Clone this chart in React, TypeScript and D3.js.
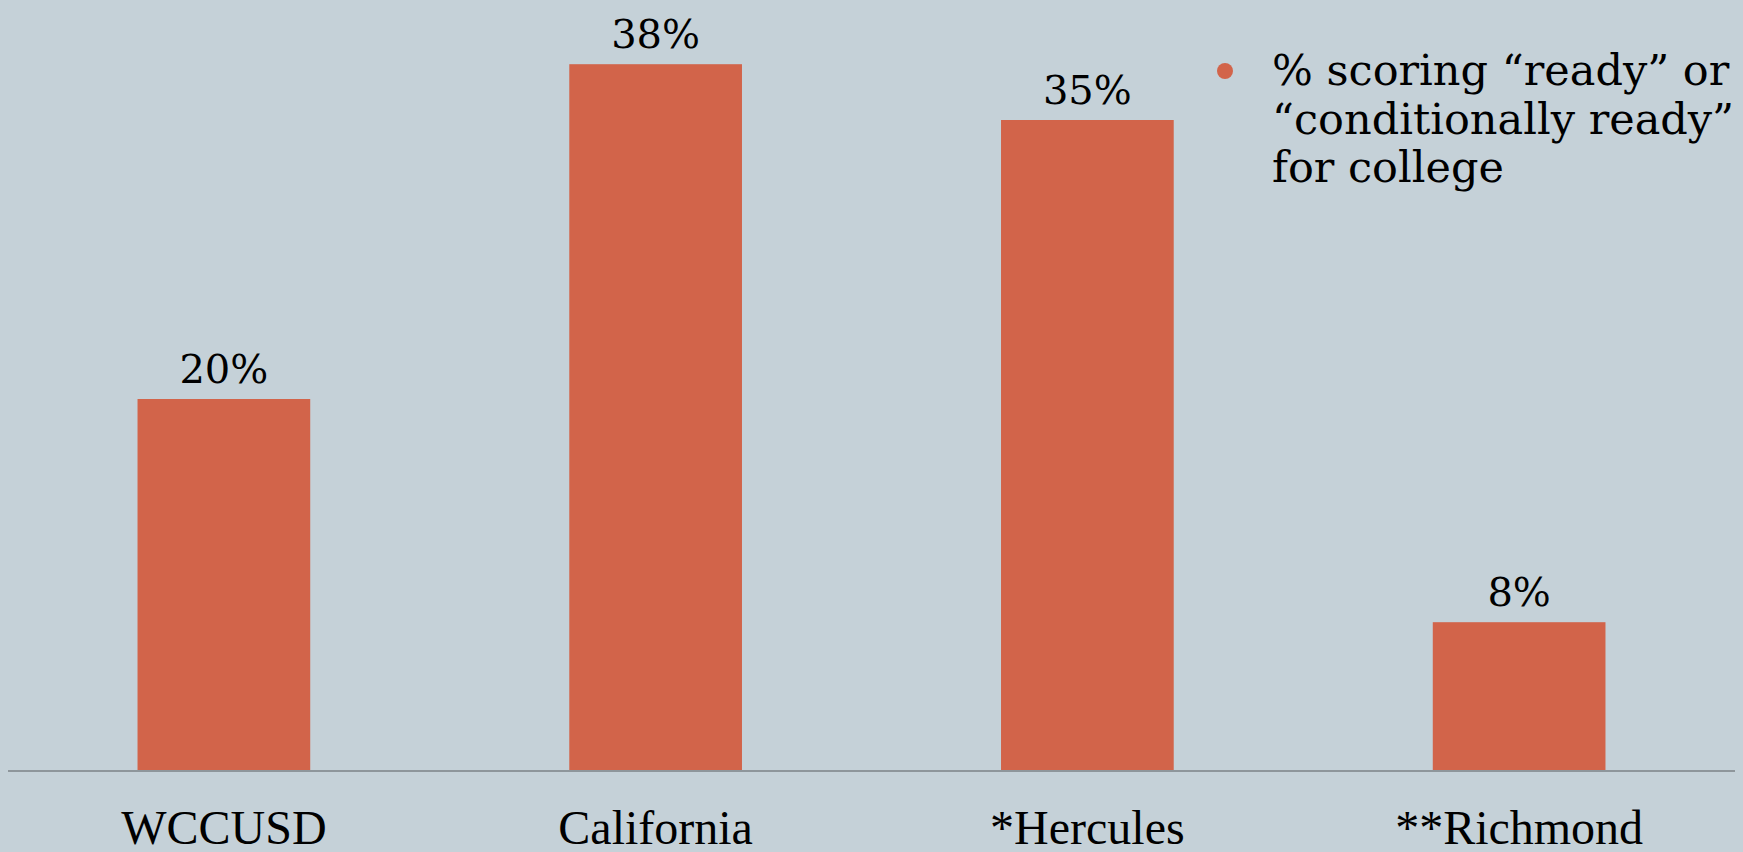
import { scaleBand, scaleLinear } from "d3"

const categories = ["WCCUSD", "California", "*Hercules", "**Richmond"]
const values = [20, 38, 35, 8]
const valueLabels = ["20%", "38%", "35%", "8%"]
const legendLines = ["% scoring \u201cready\u201d or", "\u201cconditionally ready\u201d", "for college"]

const W = 1743
const H = 852
const BASE = 771
const BAR = "#D2644A"
const BG = "#C5D1D8"
const GEORGIA = "Georgia, 'DejaVu Serif', serif"
const TIMES = "'Times New Roman', 'Liberation Serif', serif"

export default function App() {
  const x = scaleBand<string>()
    .domain(categories)
    .range([8, 1735])
    .paddingInner(0.6)
    .paddingOuter(0.3)

  const y = scaleLinear().domain([0, 40]).range([BASE, BASE - 40 * 18.6])

  return (
    <div style={{ position: "absolute", left: 0, top: 0, width: W, height: H }}>
      <svg width={W} height={H} style={{ display: "block", background: BG }}>
        <rect width={W} height={H} fill={BG} />

        {/* bars */}
        {categories.map((c, i) => (
          <rect
            key={c}
            x={x(c)}
            y={y(values[i])}
            width={x.bandwidth()}
            height={BASE - y(values[i])}
            fill={BAR}
          />
        ))}

        {/* value labels */}
        {categories.map((c, i) => (
          <text
            key={c}
            x={(x(c) ?? 0) + x.bandwidth() / 2}
            y={y(values[i]) - 16}
            textAnchor="middle"
            fontFamily={GEORGIA}
            fontSize={40}
            fill="#000"
          >
            {valueLabels[i]}
          </text>
        ))}

        {/* baseline */}
        <line x1={8} x2={1735} y1={BASE} y2={BASE} stroke="#8E969B" strokeWidth={2} />

        {/* category labels */}
        {categories.map((c) => (
          <text
            key={c}
            x={(x(c) ?? 0) + x.bandwidth() / 2}
            y={844}
            textAnchor="middle"
            fontFamily={TIMES}
            fontSize={48}
            fill="#000"
          >
            {c}
          </text>
        ))}

        {/* legend */}
        <circle cx={1225} cy={71} r={8} fill={BAR} />
        {legendLines.map((t, i) => (
          <text
            key={i}
            x={1272}
            y={85 + i * 48.5}
            fontFamily={GEORGIA}
            fontSize={43}
            fill="#000"
          >
            {t}
          </text>
        ))}
      </svg>
    </div>
  )
}
